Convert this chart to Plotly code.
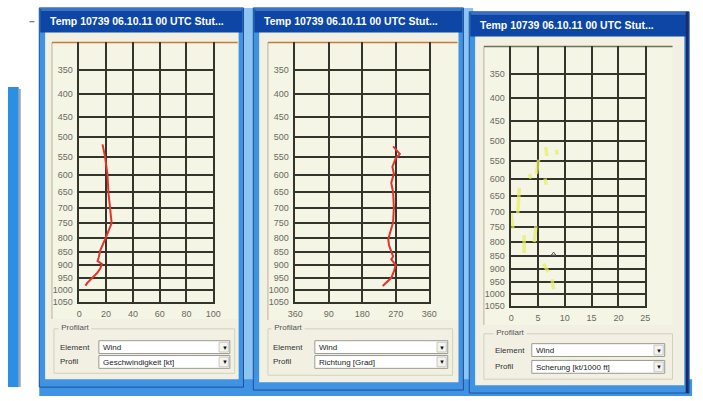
import plotly.graph_objects as go

W, H = 703, 401
KAPPA = 0.286  # vertical pressure scale: p ** KAPPA

# ---- data -------------------------------------------------------------
pressure_ticks = [350, 400, 450, 500, 550, 600, 650, 700, 750, 800, 850, 900, 950, 1000, 1050]
p_top, p_bottom = 300, 1050

speed_pressure = [518, 550, 600, 653, 694, 750, 793, 821, 846, 873, 885, 896, 914, 932, 950, 971, 981]
speed_kt = [17.3, 19.2, 21.0, 21.7, 22.8, 24.1, 20.4, 18.0, 15.6, 14.4, 13.6, 16.8, 15.6, 13.1, 9.5, 5.8, 4.6]

dir_pressure = [523, 534, 543, 555, 578, 597, 624, 652, 699, 747, 776, 805, 827, 850, 868, 879, 900, 925, 950, 983]
dir_deg = [263, 274, 281, 270, 261, 265, 258, 263, 265, 263, 257, 250, 252, 258, 263, 258, 270, 265, 258, 235]

shear_p_start = [515, 522, 548, 587, 600, 627, 706, 747, 778, 880, 940]
shear_p_end = [538, 534, 587, 600, 618, 706, 757, 802, 841, 911, 980]
shear_kt_start = [6.4, 8.4, 5.1, 3.4, 6.3, 1.5, 0.0, 4.6, 2.4, 6.0, 7.6]
shear_kt_end = [6.7, 8.6, 4.7, 3.7, 6.5, 1.2, 0.3, 4.3, 2.4, 6.9, 7.9]
shear_mark_p = [845]
shear_mark_kt = [7.9]

speed_ticks = [0, 20, 40, 60, 80, 100]
dir_ticks = [0, 90, 180, 270, 360]
dir_tick_text = ["360", "90", "180", "270", "360"]
shear_ticks = [0, 5, 10, 15, 20, 25]

window_title = "Temp 10739 06.10.11 00 UTC Stut..."
group_label = "Profilart"
element_caption = "Element"
profile_caption = "Profil"
element_value = "Wind"
profile_values = ["Geschwindigkeit [kt]", "Richtung [Grad]", "Scherung [kt/1000 ft]"]


def pz(p):
    return p ** KAPPA


# ---- helpers ----------------------------------------------------------
def X(px):
    return px / W


def Y(py):
    return 1 - py / H


shapes = []
annotations = []

UI_FONT = "Liberation Sans"


def rect(x0, y0, x1, y1, fill, line=None, lw=1, layer="below"):
    shapes.append(dict(type="rect", xref="paper", yref="paper",
                       x0=X(x0), x1=X(x1), y0=Y(y1), y1=Y(y0),
                       fillcolor=fill, layer=layer,
                       line=dict(width=lw if line else 0, color=line or "rgba(0,0,0,0)")))


def hline(x0, x1, y, color, lw=1, layer="below"):
    shapes.append(dict(type="line", xref="paper", yref="paper",
                       x0=X(x0), x1=X(x1), y0=Y(y), y1=Y(y),
                       line=dict(color=color, width=lw), layer=layer))


def vline(x, y0, y1, color, lw=1, layer="below"):
    shapes.append(dict(type="line", xref="paper", yref="paper",
                       x0=X(x), x1=X(x), y0=Y(y0), y1=Y(y1),
                       line=dict(color=color, width=lw), layer=layer))


def text(x, y, s, size=8, color="#3a3a3a", bold=False, bg=None):
    annotations.append(dict(xref="paper", yref="paper", x=X(x), y=Y(y),
                            xanchor="left", yanchor="middle", showarrow=False,
                            text=f"<b>{s}</b>" if bold else s,
                            bgcolor=bg, borderpad=0,
                            font=dict(family=UI_FONT, size=size, color=color)))


BODY = "#f1f0e2"
CHART_BG = "#f4f5e4"
BORDER = "#3f93e2"
BORDER_LIGHT = "#8cc4f2"
TITLE_BAR = "#0d46a4"

# partial window at the far left
rect(0, 88, 11, 392, "#2b8fe4")
vline(12, 90, 392, "#9aa3ad", lw=2)
hline(22, 27, 22, "#555555", lw=1)

# background strips between windows
rect(236, 8, 256, 401, BORDER_LIGHT)
rect(460, 8, 476, 401, BORDER_LIGHT)
rect(32, 384, 700, 401, BORDER)

# window frames: (left, top, right, bottom)
windows = [
    (32, 8, 241, 392),
    (251, 8, 466, 395),
    (472, 12, 697, 398),
]
for (l, t, r, b) in windows:
    rect(l, t, r, b, BORDER, line="#1d4f9a", lw=1)
    rect(l + 6, t + 24, r - 5, b - 8, BODY)
    rect(l + 1, t + 1, r - 1, t + 25, TITLE_BAR)
    hline(l + 2, r - 2, t + 2, "#3d72c8", lw=2)
    text(l + 10, t + 13.5, window_title, size=10.5, color="white", bold=True)
# dark outer edge on the right window
vline(695, 12, 398, "#1b2a6a", lw=3)

# chart panels: (frame left, frame top, frame right, frame bottom, top-line colour)
panels = [
    (45, 43, 235, 323, "#c8773f"),
    (266, 43, 460, 324, "#c8773f"),
    (487, 47, 680, 329, "#6c7252"),
]
for (l, t, r, b, c) in panels:
    rect(l, t, r, b, CHART_BG)
    vline(l, t, b, "#b8b29a", lw=1)
    hline(l, r, t, c, lw=1.5)

# "Profilart" group boxes and combo boxes
groups = [
    # gx0, gy0, gx1, gy1, label x, combo x0, combo x1, combo1 y0, combo2 y0
    (47, 333, 232, 378, 52, 93, 227, 345, 360),
    (266, 333, 455, 380, 270, 314, 450, 345, 360),
    (487, 338, 680, 384, 497, 536, 672, 348, 365),
]
for i, (gx0, gy0, gx1, gy1, lx, cx0, cx1, cy1, cy2) in enumerate(groups):
    rect(gx0, gy0, gx1, gy1, "rgba(0,0,0,0)", line="#d2d0bf", lw=1)
    text(lx - 1, gy0 - 1, "&nbsp;" + group_label + "&nbsp;", size=8, color="#555555", bg=BODY)
    text(lx, cy1 + 6.5, element_caption, size=8, color="#333333")
    text(lx, cy2 + 6.5, profile_caption, size=8, color="#333333")
    for cy, val in ((cy1, element_value), (cy2, profile_values[i])):
        rect(cx0, cy, cx1, cy + 13, "white", line="#9a9a92", lw=1)
        rect(cx1 - 11, cy + 1.5, cx1 - 1.5, cy + 11.5, "#f3f3ef", line="#c8c8c0", lw=1)
        text(cx1 - 9.5, cy + 7, "▼", size=6, color="#111111")
        text(cx0 + 3, cy + 7, val, size=8, color="#222222")

# ---- traces -----------------------------------------------------------
fig = go.Figure()

fig.add_trace(go.Scatter(
    x=speed_kt, y=[pz(p) for p in speed_pressure], mode="lines",
    line=dict(color="#e2342c", width=2), xaxis="x", yaxis="y", showlegend=False))

fig.add_trace(go.Scatter(
    x=dir_deg, y=[pz(p) for p in dir_pressure], mode="lines",
    line=dict(color="#e2342c", width=2), xaxis="x2", yaxis="y2", showlegend=False))

seg_x, seg_y = [], []
for p0, p1, s0, s1 in zip(shear_p_start, shear_p_end, shear_kt_start, shear_kt_end):
    seg_x += [s0, s1, None]
    seg_y += [pz(p0), pz(p1), None]
fig.add_trace(go.Scatter(
    x=seg_x, y=seg_y, mode="lines", connectgaps=False,
    line=dict(color="rgba(228,238,96,0.72)", width=3.5), xaxis="x3", yaxis="y3", showlegend=False))
fig.add_trace(go.Scatter(
    x=shear_mark_kt, y=[pz(p) for p in shear_mark_p], mode="markers",
    marker=dict(symbol="triangle-up-open", size=4, color="#555555", line=dict(width=1)),
    xaxis="x3", yaxis="y3", showlegend=False))

# ---- axes -------------------------------------------------------------
GRID = "#33352b"
TICK_FONT = dict(family=UI_FONT, size=9, color="#6a6a62")

plots = [
    # x0, x1, y top, y bottom, ticks, tick text
    (73, 210, 43, 306, speed_ticks, [str(v) for v in speed_ticks]),
    (294, 431, 43, 306, dir_ticks, dir_tick_text),
    (515, 652, 47, 310, shear_ticks, [str(v) for v in shear_ticks]),
]
layout_axes = {}
for i, (x0, x1, yt, yb, ticks, ticktext) in enumerate(plots, start=1):
    suffix = "" if i == 1 else str(i)
    layout_axes["xaxis" + suffix] = dict(
        domain=[X(x0), X(x1)], range=[ticks[0], ticks[-1]], anchor="y" + suffix,
        tickmode="array", tickvals=ticks, ticktext=ticktext,
        showgrid=True, gridcolor=GRID, gridwidth=1.6, zeroline=False,
        showline=True, linecolor=GRID, linewidth=1.6, mirror=False,
        ticks="", tickfont=TICK_FONT, ticklabelstandoff=2, fixedrange=True)
    layout_axes["yaxis" + suffix] = dict(
        domain=[Y(yb), Y(yt)], range=[pz(p_bottom), pz(p_top)], anchor="x" + suffix,
        tickmode="array", tickvals=[pz(p) for p in pressure_ticks],
        ticktext=[str(p) for p in pressure_ticks],
        showgrid=True, gridcolor=GRID, gridwidth=1.6, zeroline=False,
        showline=True, linecolor=GRID, linewidth=1.6, mirror=True,
        ticks="", tickfont=TICK_FONT, ticklabelstandoff=3, fixedrange=True)

fig.update_layout(
    width=W, height=H, margin=dict(l=0, r=0, t=0, b=0),
    paper_bgcolor="white", plot_bgcolor="rgba(0,0,0,0)",
    shapes=shapes, annotations=annotations, showlegend=False,
    **layout_axes)

fig.write_html("out.html", config={"displayModeBar": False})
